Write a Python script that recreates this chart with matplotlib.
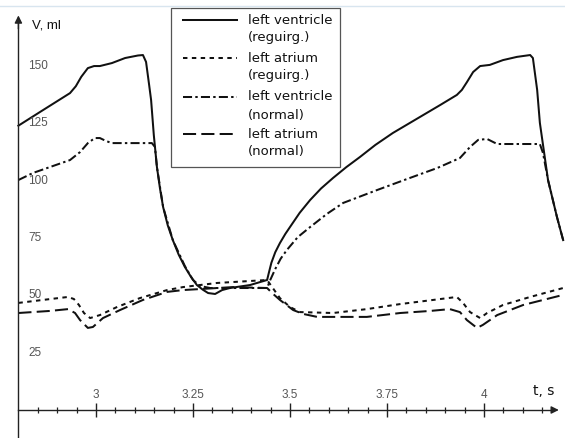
import numpy as np
import matplotlib
matplotlib.use("Agg")
import matplotlib.pyplot as plt
from matplotlib.lines import Line2D
from matplotlib.patches import Rectangle

# time (s) and volume (ml) samples for each curve
lv_reg_t = [2.80, 2.856, 2.933, 2.948, 2.962, 2.979, 2.995, 3.010, 3.041, 3.075, 3.108, 3.121,
            3.129, 3.137, 3.142, 3.149, 3.157, 3.165, 3.173, 3.185, 3.198, 3.213, 3.229, 3.245,
            3.260, 3.275, 3.289, 3.307, 3.325, 3.345, 3.397, 3.441, 3.445, 3.452, 3.462,
            3.474, 3.488, 3.500, 3.525, 3.552, 3.580, 3.611, 3.645, 3.680, 3.720,
            3.765, 3.835, 3.887, 3.930, 3.943, 3.956, 3.972, 3.990, 4.015, 4.049, 4.085,
            4.119, 4.126, 4.137, 4.144, 4.165, 4.188, 4.204]
lv_reg_v = [124.0, 130.0, 138.2, 141.2, 145.3, 149.1, 150.0, 150.0, 151.3, 153.5, 154.6, 154.8,
            151.8, 141.7, 135.2, 119.9, 106.0, 96.5, 88.5, 80.5, 74.1, 67.8, 62.4, 58.0,
            54.5, 52.5, 51.0, 50.6, 52.3, 53.2, 54.5, 56.7, 59.5, 64.2, 68.8,
            72.8, 76.8, 79.8, 86.0, 91.6, 96.6, 101.2, 105.9, 110.3, 115.6,
            120.8, 127.8, 133.0, 137.4, 139.6, 143.0, 147.4, 150.0, 150.5, 152.6, 154.0,
            154.8, 153.5, 139.6, 125.2, 100.3, 84.2, 74.1]

la_reg_t = [2.80, 2.863, 2.928, 2.943, 2.956, 2.969, 2.985, 3.010, 3.054, 3.113, 3.183,
            3.224, 3.312, 3.441, 3.454, 3.474, 3.500, 3.526, 3.611, 3.698, 3.784, 3.869,
            3.930, 3.946, 3.964, 3.990, 4.008, 4.049, 4.119, 4.204]
la_reg_v = [46.7, 48.0, 49.3, 48.4, 45.8, 42.3, 40.1, 41.4, 44.9, 48.8, 52.3,
            53.6, 55.4, 56.7, 53.6, 48.8, 44.9, 42.7, 42.3, 44.0, 46.2, 48.0,
            49.3, 46.7, 42.7, 40.1, 42.3, 45.8, 49.3, 53.2]

lv_norm_t = [2.80, 2.838, 2.933, 2.959, 2.979, 2.997, 3.010, 3.026, 3.041, 3.144, 3.152,
             3.157, 3.173, 3.198, 3.229, 3.250, 3.268, 3.294, 3.441, 3.448, 3.462, 3.476,
             3.492, 3.520, 3.552, 3.595, 3.637, 3.724, 3.809, 3.879, 3.938, 3.964, 3.985,
             4.008, 4.034, 4.144, 4.152, 4.165, 4.188, 4.204]
lv_norm_v = [100.3, 103.4, 109.0, 112.5, 116.4, 118.6, 118.6, 117.3, 116.4, 116.4, 114.7,
             106.0, 88.5, 74.1, 62.8, 56.7, 54.1, 53.2, 53.2, 56.3, 61.5, 66.0,
             69.8, 75.4, 79.8, 85.5, 90.3, 95.9, 101.2, 105.5, 109.9, 114.7, 117.8,
             118.2, 116.0, 116.0, 112.1, 100.3, 84.2, 74.1]

la_norm_t = [2.80, 2.881, 2.928, 2.946, 2.959, 2.979, 2.992, 3.018, 3.062, 3.121, 3.183,
             3.224, 3.353, 3.441, 3.454, 3.474, 3.508, 3.534, 3.570, 3.698, 3.784, 3.861,
             3.912, 3.938, 3.956, 3.982, 3.997, 4.034, 4.101, 4.204]
la_norm_v = [42.3, 43.2, 44.0, 42.3, 39.2, 35.8, 36.2, 40.1, 43.6, 48.0, 51.5,
             52.3, 53.6, 53.2, 51.0, 48.0, 43.6, 41.9, 40.6, 40.6, 42.3, 43.2,
             44.0, 42.7, 39.2, 35.8, 37.1, 41.4, 45.8, 50.2]

x_major = [3, 3.25, 3.5, 3.75, 4]
x_major_labels = ["3", "3.25", "3.5", "3.75", "4"]
y_labels = [25, 50, 75, 100, 125, 150]
legend_rows = [("left ventricle", "(reguirg.)"),
               ("left atrium", "(reguirg.)"),
               ("left ventricle", "(normal)"),
               ("left atrium", "(normal)")]

W, H = 565, 438
fig = plt.figure(figsize=(W / 100, H / 100), dpi=100)
ax = fig.add_axes([0, 0, 1, 1])
ax.set_facecolor("white")

# 388 px per second, 2.293 px per ml
t0 = 3 - 96 / 388
ax.set_xlim(t0, t0 + W / 388)
ax.set_ylim((410 - H) / 2.293, 410 / 2.293)

ink = "#111111"
lw = 1.45
styles = ["-", (0, (2.2, 2.2)), (0, (4.5, 1.6, 1.2, 1.6)), (0, (6.5, 2.6))]
series = [(lv_reg_t, lv_reg_v), (la_reg_t, la_reg_v),
          (lv_norm_t, lv_norm_v), (la_norm_t, la_norm_v)]
for (t, v), ls in zip(series, styles):
    ax.plot(t, v, color=ink, lw=lw, linestyle=ls,
            solid_joinstyle="round", dash_joinstyle="round")

# axes through the origin with arrows
for side in ["top", "right"]:
    ax.spines[side].set_visible(False)
ax.spines["left"].set_position(("data", 2.8))
ax.spines["bottom"].set_position(("data", 0))
ax.spines["left"].set_bounds(-13, 170)
ax.spines["bottom"].set_bounds(2.8, 4.18)
for side in ["left", "bottom"]:
    ax.spines[side].set_linewidth(1.0)
    ax.spines[side].set_color("#222222")
ax.annotate("", xy=(2.8, 173.3), xytext=(2.8, 165),
            arrowprops=dict(arrowstyle="-|>", color="#222222", lw=1.0, mutation_scale=11))
ax.annotate("", xy=(4.2, 0), xytext=(4.17, 0),
            arrowprops=dict(arrowstyle="-|>", color="#222222", lw=1.0, mutation_scale=11))

ax.set_xticks(x_major)
minor = [m for m in np.round(np.arange(2.85, 4.16, 0.05), 2) if m not in x_major]
ax.set_xticks(minor, minor=True)
ax.tick_params(axis="x", which="major", direction="inout", length=10, width=1.0,
               color="#222222", labelbottom=False)
ax.tick_params(axis="x", which="minor", direction="inout", length=5, width=0.9,
               color="#222222")
ax.set_yticks([])

lab_font = dict(family="Liberation Sans", size=8.5, color="#555555")
for x, s in zip(x_major, x_major_labels):
    ax.text(x, 6.5, s, ha="center", va="center", **lab_font)
for v in y_labels:
    ax.text(2.825, v, str(v), ha="left", va="center", **lab_font)

ax.text(2.835, 167.5, "V, ml", ha="left", va="center",
        family="Liberation Sans", size=9.5, color=ink)
ax.text(4.126, 8.3, "t, s", ha="left", va="center",
        family="DejaVu Sans", size=10, color=ink)

# legend box drawn in pixel-based axes fractions
def fx(px):
    return px / W

def fy(py):
    return 1 - py / H

ax.add_patch(Rectangle((fx(171), fy(167)), fx(340) - fx(171), fy(8) - fy(167),
                       transform=ax.transAxes, facecolor="white",
                       edgecolor="#555555", lw=0.9, zorder=5))
row_y = [20, 58, 97, 134]
for (l1, l2), ls, y in zip(legend_rows, styles, row_y):
    ax.add_line(Line2D([fx(183), fx(237)], [fy(y), fy(y)], transform=ax.transAxes,
                       color=ink, lw=lw, linestyle=ls, zorder=6))
    ax.text(fx(248), fy(y), l1, transform=ax.transAxes, ha="left", va="center",
            family="DejaVu Sans", size=9.5, color=ink, zorder=6)
    ax.text(fx(248), fy(y + 18), l2, transform=ax.transAxes, ha="left", va="center",
            family="DejaVu Sans", size=9.5, color=ink, zorder=6)

# thin pale rule along the top edge
fig.add_artist(Line2D([0, 1], [fy(6), fy(6)], color="#d8e5ef", lw=1.0))

fig.savefig("out.png", dpi=100, facecolor="white")
